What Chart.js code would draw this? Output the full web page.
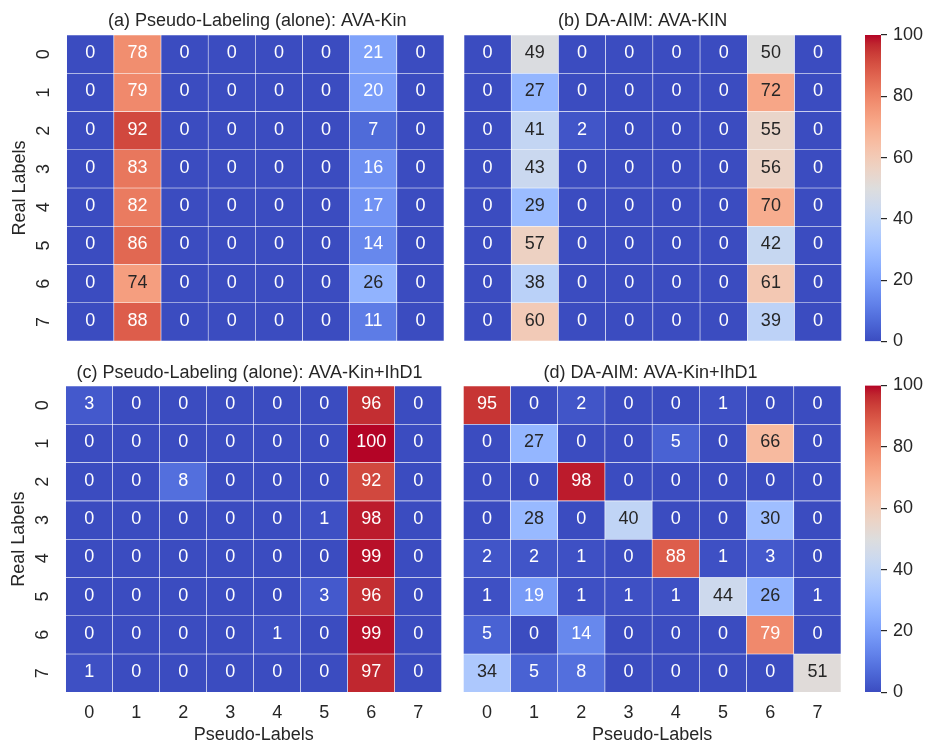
<!DOCTYPE html>
<html>
<head>
<meta charset="utf-8">
<script src="https://cdn.jsdelivr.net/npm/chart.js@4.4.1/dist/chart.umd.min.js"></script>
<style>
  body { margin: 0; background: #fff; }
  #wrap { position: relative; width: 928px; height: 746px; }
  #wrap canvas { position: absolute; left: 0; top: 0; }
</style>
</head>
<body>
<div id="wrap">
  <canvas id="pa" width="928" height="746"></canvas>
  <canvas id="pb" width="928" height="746"></canvas>
  <canvas id="cb1" width="928" height="746"></canvas>
  <canvas id="pc" width="928" height="746"></canvas>
  <canvas id="pd" width="928" height="746"></canvas>
  <canvas id="cb2" width="928" height="746"></canvas>
</div>
<script>
const rowLabels = ["0", "1", "2", "3", "4", "5", "6", "7"];
const colLabels = ["0", "1", "2", "3", "4", "5", "6", "7"];

const pseudoAvaKin = [
  [0, 78, 0, 0, 0, 0, 21, 0],
  [0, 79, 0, 0, 0, 0, 20, 0],
  [0, 92, 0, 0, 0, 0, 7, 0],
  [0, 83, 0, 0, 0, 0, 16, 0],
  [0, 82, 0, 0, 0, 0, 17, 0],
  [0, 86, 0, 0, 0, 0, 14, 0],
  [0, 74, 0, 0, 0, 0, 26, 0],
  [0, 88, 0, 0, 0, 0, 11, 0],
];
const daaimAvaKin = [
  [0, 49, 0, 0, 0, 0, 50, 0],
  [0, 27, 0, 0, 0, 0, 72, 0],
  [0, 41, 2, 0, 0, 0, 55, 0],
  [0, 43, 0, 0, 0, 0, 56, 0],
  [0, 29, 0, 0, 0, 0, 70, 0],
  [0, 57, 0, 0, 0, 0, 42, 0],
  [0, 38, 0, 0, 0, 0, 61, 0],
  [0, 60, 0, 0, 0, 0, 39, 0],
];
const pseudoAvaKinIhd = [
  [3, 0, 0, 0, 0, 0, 96, 0],
  [0, 0, 0, 0, 0, 0, 100, 0],
  [0, 0, 8, 0, 0, 0, 92, 0],
  [0, 0, 0, 0, 0, 1, 98, 0],
  [0, 0, 0, 0, 0, 0, 99, 0],
  [0, 0, 0, 0, 0, 3, 96, 0],
  [0, 0, 0, 0, 1, 0, 99, 0],
  [1, 0, 0, 0, 0, 0, 97, 0],
];
const daaimAvaKinIhd = [
  [95, 0, 2, 0, 0, 1, 0, 0],
  [0, 27, 0, 0, 5, 0, 66, 0],
  [0, 0, 98, 0, 0, 0, 0, 0],
  [0, 28, 0, 40, 0, 0, 30, 0],
  [2, 2, 1, 0, 88, 1, 3, 0],
  [1, 19, 1, 1, 1, 44, 26, 1],
  [5, 0, 14, 0, 0, 0, 79, 0],
  [34, 5, 8, 0, 0, 0, 0, 51],
];
const cbarTicks = [0, 20, 40, 60, 80, 100];

const W = 928, H = 746;
const FONT = "'Liberation Sans', Arial, sans-serif";
const INK = "#262626";
const Y_AXIS_W = 60;
const CB_AXIS_W = 45;

// matplotlib coolwarm, sampled at 33 points
const CMAP = [
  [59, 76, 192], [68, 90, 204], [77, 104, 215], [87, 117, 225], [98, 130, 234],
  [108, 142, 241], [119, 154, 247], [130, 165, 251], [141, 176, 254], [152, 185, 255],
  [163, 194, 255], [174, 201, 253], [184, 208, 249], [194, 213, 244], [204, 217, 238],
  [213, 219, 230], [221, 221, 221], [229, 216, 209], [236, 211, 197], [241, 204, 185],
  [245, 196, 173], [247, 187, 160], [247, 177, 148], [247, 166, 135], [244, 154, 123],
  [241, 141, 111], [236, 127, 99], [229, 112, 88], [222, 96, 77], [213, 80, 66],
  [203, 62, 56], [192, 40, 47], [180, 4, 38],
];
const vmin = 0, vmax = 100;

function cmapRgb(v) {
  const t = Math.min(Math.max((v - vmin) / (vmax - vmin), 0), 1) * (CMAP.length - 1);
  const i = Math.min(Math.floor(t), CMAP.length - 2);
  const f = t - i;
  return CMAP[i].map((c, k) => c + (CMAP[i + 1][k] - c) * f);
}
const coolwarm = (v) => "rgb(" + cmapRgb(v).map(Math.round).join(",") + ")";

function textColor(v) {
  const lin = cmapRgb(v).map((c) => {
    c /= 255;
    return c <= 0.03928 ? c / 12.92 : Math.pow((c + 0.055) / 1.055, 2.4);
  });
  const lum = 0.2126 * lin[0] + 0.7152 * lin[1] + 0.0722 * lin[2];
  return lum > 0.408 ? INK : "#ffffff";
}

Chart.defaults.font.family = FONT;
Chart.defaults.font.size = 18;
Chart.defaults.color = INK;
Chart.defaults.animation = false;

const panelTitle = {
  id: "panelTitle",
  afterDraw(chart, args, opts) {
    if (!opts.text) return;
    const ctx = chart.ctx;
    ctx.save();
    ctx.font = "18px " + FONT;
    ctx.fillStyle = INK;
    ctx.textAlign = "center";
    ctx.textBaseline = "alphabetic";
    ctx.fillText(opts.text, opts.x, opts.y);
    ctx.restore();
  },
};

const cellText = {
  id: "cellText",
  afterDatasetsDraw(chart) {
    const ctx = chart.ctx;
    ctx.save();
    ctx.font = "18px " + FONT;
    ctx.textAlign = "center";
    ctx.textBaseline = "middle";
    chart.data.datasets.forEach((ds, i) => {
      chart.getDatasetMeta(i).data.forEach((bar, j) => {
        const v = ds.values[j];
        const p = bar.getCenterPoint();
        ctx.fillStyle = textColor(v);
        ctx.fillText(String(v), p.x, p.y - 1);
      });
    });
    ctx.restore();
  },
};

function heatmap(id, matrix, box, title, showY, showX) {
  const xAxisH = H - box.b;
  return new Chart(document.getElementById(id), {
    type: "bar",
    data: {
      labels: colLabels,
      datasets: matrix.map((row, r) => ({
        values: row,
        data: row.map(() => [r, r + 1]),
        backgroundColor: row.map(coolwarm),
        borderColor: "rgba(255,255,255,0.8)",
        borderWidth: 0.6,
        borderSkipped: false,
        grouped: false,
        categoryPercentage: 1,
        barPercentage: 1,
      })),
    },
    plugins: [cellText, panelTitle],
    options: {
      responsive: false,
      events: [],
      layout: {
        padding: {
          left: box.l - (showY ? Y_AXIS_W : 0),
          right: W - box.r,
          top: box.t,
          bottom: showX ? 0 : H - box.b,
        },
      },
      plugins: {
        legend: { display: false },
        tooltip: { enabled: false },
        panelTitle: title,
      },
      scales: {
        x: {
          display: showX,
          offset: true,
          afterFit: (s) => { if (showX) s.height = xAxisH; },
          ticks: { padding: 10, maxRotation: 0 },
          grid: { display: false, drawTicks: false },
          border: { display: false },
          title: { display: true, text: "Pseudo-Labels", padding: 0 },
        },
        y: {
          display: showY,
          min: 0,
          max: rowLabels.length,
          reverse: true,
          afterBuildTicks: (s) => {
            s.ticks = rowLabels.map((_, i) => ({ value: i + 0.5 }));
          },
          afterFit: (s) => { if (showY) s.width = Y_AXIS_W; },
          ticks: {
            callback: (v, i) => rowLabels[i],
            minRotation: 90,
            maxRotation: 90,
            padding: 18,
            crossAlign: "center",
          },
          grid: { display: false, drawTicks: false },
          border: { display: false },
          title: { display: true, text: "Real Labels", padding: { top: 2.5, bottom: 0 } },
        },
      },
    },
  });
}

function colorbar(id, top, bottom) {
  const lo = cbarTicks[0], hi = cbarTicks[cbarTicks.length - 1];
  return new Chart(document.getElementById(id), {
    type: "bar",
    data: {
      labels: [""],
      datasets: [
        {
          data: [[lo, hi]],
          backgroundColor: (c) => {
            const a = c.chart.chartArea;
            if (!a) return coolwarm(lo);
            const g = c.chart.ctx.createLinearGradient(0, a.bottom, 0, a.top);
            CMAP.forEach((rgb, i) => g.addColorStop(i / (CMAP.length - 1), "rgb(" + rgb.join(",") + ")"));
            return g;
          },
          borderWidth: 0,
          categoryPercentage: 1,
          barPercentage: 1,
        },
      ],
    },
    options: {
      responsive: false,
      events: [],
      layout: { padding: { left: 865, right: W - 881 - CB_AXIS_W, top: top, bottom: H - bottom } },
      plugins: { legend: { display: false }, tooltip: { enabled: false } },
      scales: {
        x: { display: false },
        y: {
          position: "right",
          min: lo,
          max: hi,
          afterBuildTicks: (s) => { s.ticks = cbarTicks.map((v) => ({ value: v })); },
          afterFit: (s) => { s.width = CB_AXIS_W; },
          ticks: { padding: 6 },
          grid: { drawOnChartArea: false, drawTicks: true, tickLength: 6, color: INK, lineWidth: 1.2 },
          border: { display: false },
        },
      },
    },
  });
}

heatmap("pa", pseudoAvaKin, { l: 66.7, r: 444, t: 35, b: 341 },
  { text: "(a) Pseudo-Labeling (alone): AVA-Kin", x: 257.2, y: 25.7 }, true, false);
heatmap("pb", daaimAvaKin, { l: 464, r: 841.7, t: 35, b: 341 },
  { text: "(b) DA-AIM: AVA-KIN", x: 642.6, y: 25.7 }, false, false);
colorbar("cb1", 35, 341.5);
heatmap("pc", pseudoAvaKinIhd, { l: 65.7, r: 441.7, t: 386, b: 692.3 },
  { text: "(c) Pseudo-Labeling (alone): AVA-Kin+IhD1", x: 249.5, y: 378.3 }, true, true);
heatmap("pd", daaimAvaKinIhd, { l: 463.3, r: 841, t: 386, b: 692.3 },
  { text: "(d) DA-AIM: AVA-Kin+IhD1", x: 650.5, y: 378.3 }, false, true);
colorbar("cb2", 385.5, 692.3);
</script>
</body>
</html>
